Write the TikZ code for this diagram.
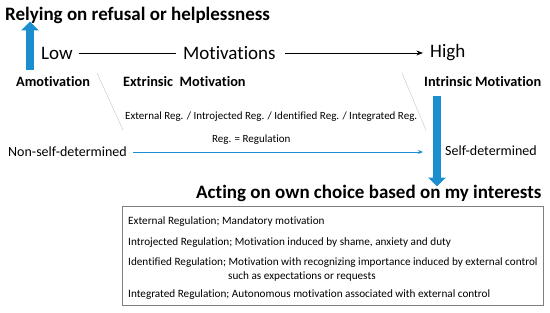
\documentclass[tikz,border=0pt]{standalone}
\usepackage{fontspec}
\setmainfont{Carlito}[Ligatures=NoCommon]
\usetikzlibrary{arrows.meta,positioning}
\definecolor{arrowblue}{RGB}{27,142,208}

\begin{document}
\begin{tikzpicture}[
  x=1pt, y=-1pt,
  >=Stealth,
  headline/.style={font=\fontsize{19}{22}\selectfont\bfseries, inner sep=0pt, anchor=west},
  scaleword/.style={font=\fontsize{19}{22}\selectfont, inner sep=0pt, anchor=west},
  kind/.style={font=\fontsize{14.3}{16}\selectfont\bfseries, inner sep=0pt, anchor=west},
  side/.style={font=\fontsize{14}{16}\selectfont, inner sep=0pt, anchor=west},
  note/.style={font=\fontsize{11}{12}\selectfont, inner sep=0pt, anchor=west},
  boxline/.style={font=\fontsize{11.2}{12}\selectfont, inner sep=0pt, anchor=west},
  blockarrow/.style={arrowblue, line width=7.5pt, -{Triangle[width=17pt,length=9pt]}},
  thinarrow/.style={arrowblue, thick, -{Stealth[length=5pt,width=4pt]}},
  guide/.style={gray!70, very thin}
]
  \useasboundingbox (0,0) rectangle (550,313);

  % Top and bottom headlines
  \node[headline] (refusal) at (5,15) {Relying on refusal or helplessness};
  \node[headline] (acting) at (196,193) {Acting on own choice based on my interests};

  % Motivation scale
  \node[scaleword] (low) at (41,53) {Low};
  \node[scaleword] (motiv) at (183,53) {Motivations};
  \node[scaleword] (high) at (430,53) {High};
  \draw[thick] ([xshift=6pt]low.east) -- ([xshift=-7pt]motiv.west);
  \draw[thick,->] ([xshift=9pt]motiv.east) -- ([xshift=-7pt]high.west |- motiv.east);

  % Kinds of motivation
  \node[kind] (amot) at (16,82) {Amotivation};
  \node[kind] (extr) at (123,82) {Extrinsic\ \ Motivation};
  \node[kind] (intr) at (424,82) {Intrinsic Motivation};

  % Regulations under extrinsic motivation
  \draw[guide] (97,73) -- (123,130);
  \draw[guide] (402,73) -- (426,130);
  \node[note] (regs) at (125,117)
    {External Reg. / Introjected Reg. / Identified Reg. / Integrated Reg.};
  \node[note] (regdef) at (212,140) {Reg. = Regulation};

  % Self-determination axis
  \node[side] (nonself) at (8,152) {Non-self-determined};
  \node[side] (selfdet) at (445,151) {Self-determined};
  \coordinate (axisend) at (423,152);
  \draw[thinarrow] ([xshift=6pt]nonself.east) -- (axisend);

  % Block arrows
  \coordinate (upfoot) at (30,70);
  \draw[blockarrow] (upfoot) -- ([yshift=2pt]upfoot |- refusal.south);
  \coordinate (downtop) at (437,96);
  \draw[blockarrow] (downtop) -- ([yshift=-2pt]downtop |- acting.north);

  % Legend box
  \node[draw=gray, minimum width=421pt, minimum height=99pt, inner sep=0pt,
    anchor=north west] (legend) at (122,206) {};
  \node[boxline] (extreg) at (128,222) {External Regulation; Mandatory motivation};
  \node[boxline] (introreg) at (128,243)
    {Introjected Regulation; Motivation induced by shame, anxiety and duty};
  \node[boxline] (identreg) at (128,263)
    {Identified Regulation; Motivation with recognizing importance induced by external control};
  \node[boxline] (identmore) at (228,277) {such as expectations or requests};
  \node[boxline] (integreg) at (128,295)
    {Integrated Regulation; Autonomous motivation associated with external control};
\end{tikzpicture}
\end{document}
